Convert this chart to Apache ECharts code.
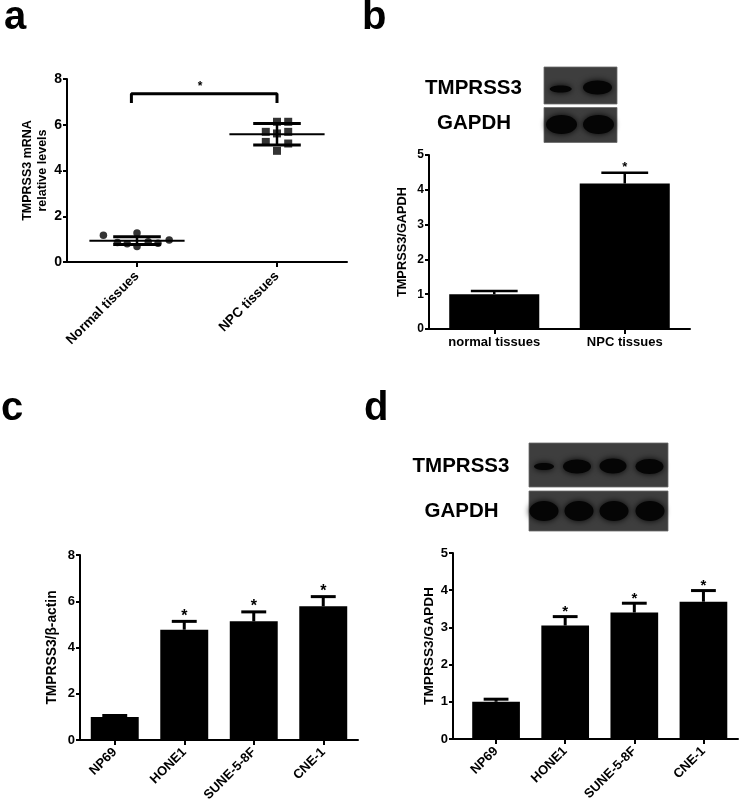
<!DOCTYPE html>
<html><head><meta charset="utf-8">
<script src="https://cdn.jsdelivr.net/npm/echarts@6/dist/echarts.min.js"></script>
<style>html,body{margin:0;padding:0;background:#fff}#c{width:740px;height:810px}</style>
</head><body><div id="c"></div>
<script>
const FONT = '"Liberation Sans", Arial, Helvetica, sans-serif';

// ---------- Panel a : scatter dot plot ----------
const aCategories = ['Normal tissues', 'NPC tissues'];
const aNormalValues = [1.17, 1.27, 0.96, 0.68, 0.85, 0.80, 0.88, 0.82];
const aNormalJitter = [-0.24, 0, 0.23, 0, -0.14, -0.07, 0.08, 0.15];
const aNpcValues = [6.13, 6.13, 5.69, 5.69, 5.62, 5.25, 5.18, 4.86];
const aNpcJitter = [0, 0.08, -0.08, 0.08, 0, -0.08, 0.08, 0];
const aMean = [0.93, 5.58];
const aSD = [0.17, 0.47];
const aBracket = [[-0.04, 6.95], [-0.04, 7.35], [1, 7.35], [1, 6.95]];
const aStar = [[0.45, 7.8]];

// ---------- Panel b ----------
const bCategories = ['normal tissues', 'NPC tissues'];
const bValues = [1.0, 4.18];
const bErrors = [0.09, 0.31];
const bSignificant = [false, true];

// ---------- Panels c, d ----------
const cdCategories = ['NP69', 'HONE1', 'SUNE-5-8F', 'CNE-1'];
const cValues = [1.0, 4.77, 5.13, 5.78];
const cErrors = [0.06, 0.36, 0.41, 0.42];
const cSignificant = [false, true, true, true];
const dValues = [1.0, 3.05, 3.40, 3.69];
const dErrors = [0.07, 0.24, 0.25, 0.30];
const dSignificant = [false, true, true, true];

const BLACK = '#000';

function yAxisCfg(grid, max, interval, name, fs, nameFs, nameGap, extra) {
  return Object.assign({
    type: 'value', gridIndex: grid, min: 0, max: max, interval: interval,
    name: name, nameLocation: 'middle', nameRotate: 90, nameGap: nameGap,
    nameTextStyle: { fontFamily: FONT, fontWeight: 'bold', fontSize: nameFs, color: BLACK, lineHeight: nameFs + 2.5 },
    axisLine: { show: true, onZero: false, lineStyle: { color: BLACK, width: 2 } },
    axisTick: { show: true, length: 4, lineStyle: { color: BLACK, width: 2 } },
    axisLabel: { fontFamily: FONT, fontWeight: 'bold', fontSize: fs, color: BLACK, margin: 5 },
    splitLine: { show: false }
  }, extra || {});
}
function xCatCfg(grid, data, rotate, fs, margin) {
  return {
    type: 'category', gridIndex: grid, data: data, boundaryGap: true,
    axisLine: { show: true, onZero: false, lineStyle: { color: BLACK, width: 2 } },
    axisTick: { show: true, alignWithLabel: true, length: 5, lineStyle: { color: BLACK, width: 2 } },
    axisLabel: { rotate: rotate, interval: 0, fontFamily: FONT, fontWeight: 'bold', fontSize: fs, color: BLACK, margin: margin },
    splitLine: { show: false }
  };
}
function barSeries(xi, yi, values) {
  return { type: 'bar', xAxisIndex: xi, yAxisIndex: yi, data: values, barCategoryGap: '31%',
    itemStyle: { color: BLACK }, silent: true };
}
function errSeries(xi, yi, values, errors, lw) {
  return {
    type: 'custom', xAxisIndex: xi, yAxisIndex: yi, z: 4, silent: true,
    data: values.map((v, i) => [i, v, errors[i]]),
    renderItem: function (params, api) {
      const i = api.value(0), v = api.value(1), e = api.value(2);
      const base = api.coord([i, v]), top = api.coord([i, v + e]);
      const bw = api.size([1, 0])[0] * 0.69;
      const half = bw * 0.26;
      return { type: 'group', children: [
        { type: 'line', shape: { x1: base[0], y1: base[1], x2: top[0], y2: top[1] }, style: { stroke: BLACK, lineWidth: lw } },
        { type: 'line', shape: { x1: top[0] - half, y1: top[1], x2: top[0] + half, y2: top[1] }, style: { stroke: BLACK, lineWidth: lw } }
      ] };
    }
  };
}
function starSeries(xi, yi, points, fs, gap) {
  return {
    type: 'custom', xAxisIndex: xi, yAxisIndex: yi, z: 5, silent: true, data: points,
    renderItem: function (params, api) {
      const p = api.coord([api.value(0), api.value(1)]);
      return { type: 'text', x: p[0], y: p[1] - gap + 0.22 * fs,
        style: { text: '*', fontFamily: FONT, fontWeight: 'bold', fontSize: fs, fill: BLACK, align: 'center', verticalAlign: 'middle' } };
    }
  };
}
function sigPoints(values, errors, sig) {
  const out = [];
  values.forEach((v, i) => { if (sig[i]) out.push([i, v + errors[i]]); });
  return out;
}

function blot(x, y, w, h, bands) {
  const ch = [{ type: 'rect', shape: { x: x, y: y, width: w, height: h }, style: { fill: '#3e3e3e', stroke: '#6a6a6a', lineWidth: 0.8 } }];
  bands.forEach(b => ch.push({ type: 'ellipse', shape: { cx: b[0], cy: b[1], rx: b[2], ry: b[3] },
    style: { fill: '#050505', shadowBlur: 6, shadowColor: 'rgba(0,0,0,0.95)' } }));
  return ch;
}
function label(text, x, y, size) {
  return { type: 'text', x: x, y: y, style: { text: text, fontFamily: FONT, fontWeight: 'bold', fontSize: size, fill: BLACK, align: 'center', verticalAlign: 'middle' } };
}
function letter(text, x, y) {
  return { type: 'text', x: x, y: y, style: { text: text, fontFamily: FONT, fontWeight: 'bold', fontSize: 40, fill: BLACK, align: 'left', verticalAlign: 'middle' } };
}

const graphics = [].concat(
  [letter('a', 4, 18), letter('b', 362, 18), letter('c', 1, 409), letter('d', 364, 409)],
  blot(544, 67, 73, 37, [[560.7, 89, 11, 3.5], [597.5, 87.5, 14.5, 7]]),
  blot(544, 107.5, 73, 35, [[561.5, 124.5, 15.5, 9.5], [598.5, 124.5, 15.5, 9.5]]),
  [label('TMPRSS3', 473.5, 88, 20.5), label('GAPDH', 474, 123, 20.5)],
  blot(529, 443, 139, 44, [[544, 466.5, 10, 3.5], [577, 466.5, 14, 7], [613, 466, 13.5, 7.5], [649.5, 466.5, 14, 7.5]]),
  blot(529, 491, 139, 40, [[544, 511, 14.5, 10], [579, 511, 14.5, 10], [614, 511, 14.5, 10], [650, 511, 14.5, 10]]),
  [label('TMPRSS3', 461, 466.7, 20.5), label('GAPDH', 461.5, 511.7, 20.5)],
  [{ type: 'line', shape: { x1: 452, y1: 739, x2: 463, y2: 739 }, style: { stroke: BLACK, lineWidth: 2 } }]
);

const option = {
  animation: false,
  backgroundColor: '#fff',
  textStyle: { fontFamily: FONT },
  grid: [
    { left: 67, top: 79, width: 280, height: 183 },
    { left: 429, top: 155, width: 261, height: 174 },
    { left: 80, top: 555, width: 278, height: 185 },
    { left: 461.5, top: 553, width: 276.5, height: 186 }
  ],
  xAxis: [
    xCatCfg(0, aCategories, 45, 13.5, 12),
    { type: 'value', gridIndex: 0, min: -0.5, max: 1.5, show: false },
    xCatCfg(1, bCategories, 0, 13, 7),
    xCatCfg(2, cdCategories, 45, 13, 10),
    xCatCfg(3, cdCategories, 45, 13, 10)
  ],
  yAxis: [
    yAxisCfg(0, 8, 2, 'TMPRSS3 mRNA\nrelative levels', 14, 12.5, 17),
    yAxisCfg(1, 5, 1, 'TMPRSS3/GAPDH', 12, 12.8, 19),
    yAxisCfg(2, 8, 2, 'TMPRSS3/\u03b2-actin', 13, 13.8, 20),
    yAxisCfg(3, 5, 1, 'TMPRSS3/GAPDH', 13, 13.7, 11, { offset: 8.5 })
  ],
  series: [
    // panel a
    { type: 'custom', xAxisIndex: 1, yAxisIndex: 0, z: 3, silent: true,
      data: aMean.map((m, i) => [i, m, aSD[i]]),
      renderItem: function (params, api) {
        const i = api.value(0), m = api.value(1), s = api.value(2);
        const p = (x, y) => api.coord([x, y]);
        const a1 = p(i - 0.34, m), a2 = p(i + 0.34, m);
        const v1 = p(i, m - s), v2 = p(i, m + s);
        const c1 = p(i - 0.17, m + s), c2 = p(i + 0.17, m + s);
        const d1 = p(i - 0.17, m - s), d2 = p(i + 0.17, m - s);
        const st = (w) => ({ stroke: BLACK, lineWidth: w });
        return { type: 'group', children: [
          { type: 'line', shape: { x1: a1[0], y1: a1[1], x2: a2[0], y2: a2[1] }, style: st(2) },
          { type: 'line', shape: { x1: v1[0], y1: v1[1], x2: v2[0], y2: v2[1] }, style: st(2.5) },
          { type: 'line', shape: { x1: c1[0], y1: c1[1], x2: c2[0], y2: c2[1] }, style: st(3) },
          { type: 'line', shape: { x1: d1[0], y1: d1[1], x2: d2[0], y2: d2[1] }, style: st(3) }
        ] };
      } },
    { type: 'scatter', xAxisIndex: 1, yAxisIndex: 0, z: 4, symbol: 'circle', symbolSize: 7.5,
      itemStyle: { color: BLACK }, data: aNormalValues.map((v, i) => [0 + aNormalJitter[i], v]) },
    { type: 'scatter', xAxisIndex: 1, yAxisIndex: 0, z: 4, symbol: 'rect', symbolSize: 8,
      itemStyle: { color: BLACK }, data: aNpcValues.map((v, i) => [1 + aNpcJitter[i], v]) },
    { type: 'line', xAxisIndex: 1, yAxisIndex: 0, symbol: 'none', data: aBracket,
      lineStyle: { color: BLACK, width: 3 } },
    starSeries(1, 0, aStar, 12, 0),
    // panel b
    barSeries(2, 1, bValues),
    errSeries(2, 1, bValues, bErrors, 2.5),
    starSeries(2, 1, sigPoints(bValues, bErrors, bSignificant), 13, 8),
    // panel c
    barSeries(3, 2, cValues),
    errSeries(3, 2, cValues, cErrors, 3),
    starSeries(3, 2, sigPoints(cValues, cErrors, cSignificant), 16, 8.5),
    // panel d
    barSeries(4, 3, dValues),
    errSeries(4, 3, dValues, dErrors, 3),
    starSeries(4, 3, sigPoints(dValues, dErrors, dSignificant), 15, 8)
  ],
  graphic: graphics
};

const chart = echarts.init(document.getElementById('c'), null, { renderer: 'canvas' });
chart.setOption(option);
</script>
</body></html>
